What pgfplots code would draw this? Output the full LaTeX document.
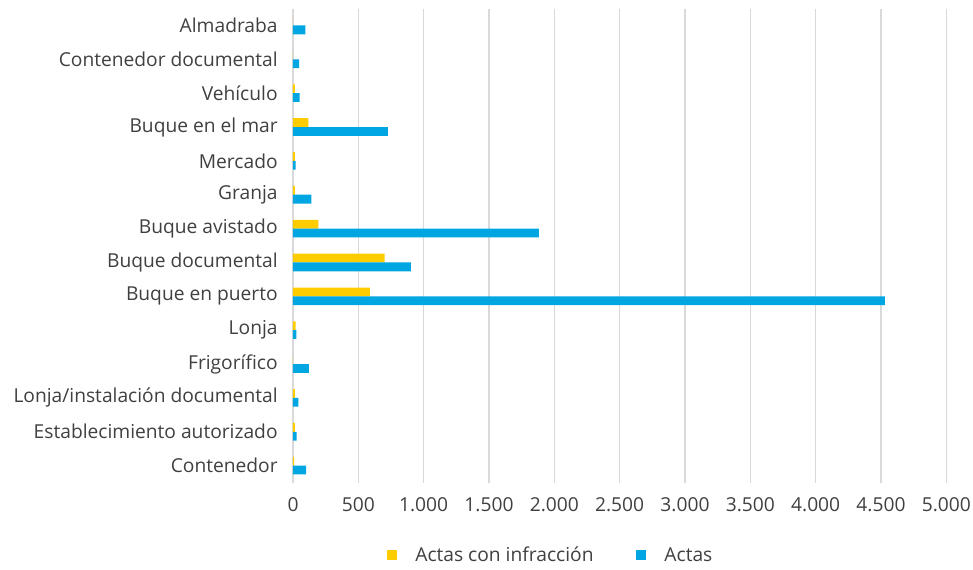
\documentclass[border=0pt]{standalone}
\usepackage{pgfplots}
\pgfplotsset{compat=1.18}
\usepackage{fontspec}
\setmainfont{Open Sans}
\definecolor{cyel}{HTML}{FFCC00}
\definecolor{cblu}{HTML}{00A6E2}
\definecolor{cgrid}{HTML}{D9D9D9}
\definecolor{ctext}{HTML}{404040}
\begin{document}
\begin{tikzpicture}
\begin{axis}[
  scale only axis,
  width=490pt, height=355.5pt,
  xbar, bar width=6.6pt,
  y dir=reverse,
  xmin=0, xmax=5000,
  ymin=-0.5, ymax=13.5,
  xtick={0,500,...,5000},
  ytick={0,...,13},
  yticklabels={Almadraba,Contenedor documental,Vehículo,Buque en el mar,Mercado,Granja,Buque avistado,Buque documental,Buque en puerto,Lonja,Frigorífico,Lonja/instalación documental,Establecimiento autorizado,Contenedor},
  /pgf/number format/.cd, use comma, 1000 sep={.}, assume math mode=true,
  /pgfplots/.cd,
  scaled x ticks=false,
  xmajorgrids, grid style={cgrid, line width=1.1pt},
  axis line style={draw=none},
  major tick length=0pt,
  tick label style={font=\fontsize{14.4}{17}\selectfont, text=ctext},
  yticklabel style={xshift=-8pt},
  xticklabel style={yshift=-8pt},
  legend style={draw=none, at={(0.395,-0.154)}, anchor=center, font=\fontsize{14.4}{17}\selectfont, text=ctext,
    /tikz/every even column/.append style={column sep=30pt},
    /tikz/every odd column/.append style={column sep=12pt}},
  legend columns=2,
  legend image code/.code={\fill[#1] (0pt,-3pt) rectangle (7.2pt,4.2pt);},
]
\addplot[fill=cyel, draw=none, bar shift=3.3pt] coordinates {
(0,0) (0,1) (15,2) (117,3) (15,4) (15,5) (194,6) (701,7) (589,8) (20,9) (0,10) (15,11) (15,12) (8,13)};
\addplot[fill=cblu, draw=none, bar shift=-3.3pt] coordinates {
(94,0) (46,1) (51,2) (727,3) (20,4) (140,5) (1882,6) (903,7) (4530,8) (26,9) (122,10) (41,11) (28,12) (100,13)};
\legend{Actas con infracción, Actas}
\end{axis}
\pgfresetboundingbox
\path (-219.75pt,-65.6pt) rectangle (510pt,361.9pt);
\end{tikzpicture}
\end{document}
